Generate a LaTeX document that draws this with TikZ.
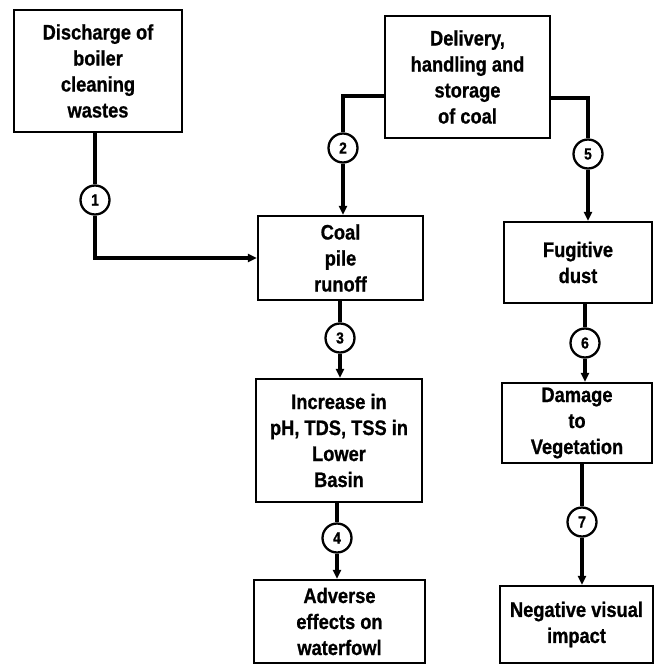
\documentclass[tikz,border=0pt]{standalone}
\usepackage{fontspec}
\newfontfamily\lbl{Liberation Sans}[FakeStretch=0.87,BoldFeatures={FakeBold=0.8}]
\usetikzlibrary{arrows.meta}
\begin{document}
\begin{tikzpicture}[x=1pt,y=-1pt,
  box/.style={draw,line width=2.3pt,rectangle,align=center,inner sep=0pt,
    font=\lbl\bfseries\fontsize{21}{26}\selectfont},
  num/.style={draw,circle,line width=2.3pt,fill=white,minimum size=29pt,inner sep=0pt,
    font=\lbl\bfseries\fontsize{16}{16}\selectfont},
  link/.style={line width=3.2pt},
  arr/.style={link,-{Triangle[length=9pt,width=8pt]}}]
\useasboundingbox (0,0) rectangle (655,666);
% process boxes
\node[box,minimum width=168pt,minimum height=122pt] (boiler) at (98,71)
  {Discharge of\\boiler\\cleaning\\wastes};
\node[box,minimum width=165pt,minimum height=122pt] (coal) at (467.5,77)
  {Delivery,\\handling and\\storage\\of coal};
\node[box,minimum width=165pt,minimum height=84pt] (runoff) at (340.5,258)
  {Coal\\pile\\runoff};
\node[box,minimum width=148pt,minimum height=81pt] (dust) at (578,262.5)
  {Fugitive\\dust};
\node[box,minimum width=166pt,minimum height=123pt] (basin) at (339,440.5)
  {Increase in\\pH, TDS, TSS in\\Lower\\Basin};
\node[box,minimum width=150pt,minimum height=80pt] (veg) at (577,423)
  {Damage\\to\\Vegetation};
\node[box,minimum width=171pt,minimum height=83pt] (fowl) at (339.5,621.5)
  {Adverse\\effects on\\waterfowl};
\node[box,minimum width=153pt,minimum height=77pt] (visual) at (576.5,624.5)
  {Negative visual\\impact};
% pathway numbers
\node[num] (n1) at (95,200) {1};
\node[num] (n2) at (343,148) {2};
\node[num] (n3) at (340,338) {3};
\node[num] (n4) at (337,538) {4};
\node[num] (n5) at (588,154) {5};
\node[num] (n6) at (585,343) {6};
\node[num] (n7) at (582,522) {7};
% pathways
\draw[link] (n1 |- boiler.south) -- (n1);
\draw[arr] (n1) |- (runoff.west);
\draw[link] ([yshift=-19pt]coal.west) -| (n2);
\draw[arr] (n2) -- (n2 |- runoff.north);
\draw[link] ([yshift=-21pt]coal.east) -| (n5);
\draw[arr] (n5) -- (n5 |- dust.north);
\draw[link] (n3 |- runoff.south) -- (n3);
\draw[arr] (n3) -- (n3 |- basin.north);
\draw[link] (n4 |- basin.south) -- (n4);
\draw[arr] (n4) -- (n4 |- fowl.north);
\draw[link] (n6 |- dust.south) -- (n6);
\draw[arr] (n6) -- (n6 |- veg.north);
\draw[link] (n7 |- veg.south) -- (n7);
\draw[arr] (n7) -- (n7 |- visual.north);
\end{tikzpicture}
\end{document}
